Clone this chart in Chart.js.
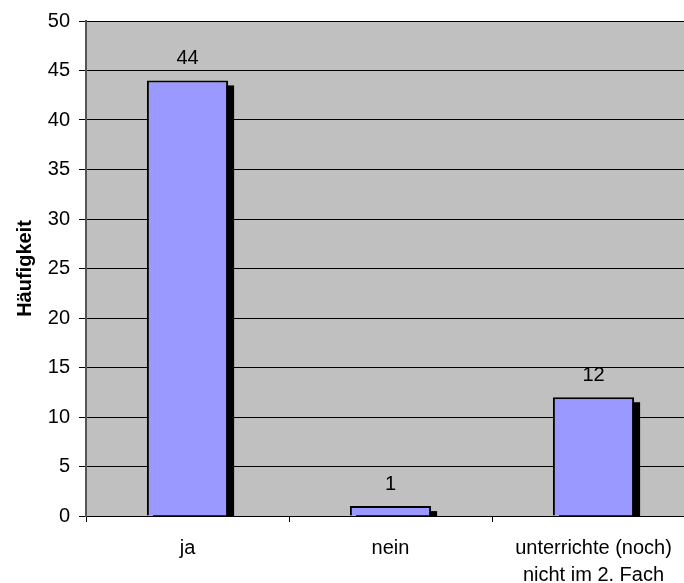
<!DOCTYPE html>
<html>
<head>
<meta charset="utf-8">
<script src="https://cdn.jsdelivr.net/npm/chart.js@4.4.1/dist/chart.umd.min.js"></script>
<style>
  html, body { margin: 0; padding: 0; background: #fff; overflow: hidden; }
  #wrap { width: 700px; height: 583px; }
</style>
</head>
<body>
<div id="wrap"><canvas id="chart"></canvas></div>
<script>
var categories = ['ja', 'nein', ['unterrichte (noch)', 'nicht im 2. Fach']];
var counts = [44, 1, 12];
var yTicks = [0, 5, 10, 15, 20, 25, 30, 35, 40, 45, 50];
var yTitle = 'Häufigkeit';

var FONT = "'Liberation Sans', Arial, sans-serif";

// grey plot area
var plotBg = {
  id: 'plotBg',
  beforeDraw: function (chart) {
    var a = chart.chartArea, ctx = chart.ctx;
    ctx.save();
    ctx.fillStyle = '#c0c0c0';
    ctx.fillRect(a.left, a.top, a.right - a.left, a.bottom - a.top);
    ctx.restore();
  }
};

// black drop shadow behind every bar
var barShadow = {
  id: 'barShadow',
  beforeDatasetsDraw: function (chart) {
    var a = chart.chartArea, ctx = chart.ctx;
    ctx.save();
    ctx.beginPath();
    ctx.rect(a.left, a.top, a.right - a.left, a.bottom - a.top);
    ctx.clip();
    ctx.fillStyle = '#000';
    chart.getDatasetMeta(0).data.forEach(function (bar) {
      var p = bar.getProps(['x', 'y', 'base', 'width'], true);
      ctx.fillRect(p.x - p.width / 2 + 6, p.y + 5, p.width, p.base - p.y);
    });
    ctx.restore();
  }
};

// value above each bar
var valueLabels = {
  id: 'valueLabels',
  afterDatasetsDraw: function (chart) {
    var ctx = chart.ctx;
    var ds = chart.data.datasets[0];
    ctx.save();
    ctx.font = '20px ' + FONT;
    ctx.fillStyle = '#000';
    ctx.textAlign = 'center';
    ctx.textBaseline = 'alphabetic';
    chart.getDatasetMeta(0).data.forEach(function (bar, i) {
      ctx.fillText(String(ds.data[i]), bar.x, bar.y - 16);
    });
    ctx.restore();
  }
};

new Chart(document.getElementById('chart'), {
  type: 'bar',
  data: {
    labels: categories,
    datasets: [{
      data: counts,
      backgroundColor: '#9999ff',
      borderColor: '#000',
      borderWidth: 2,
      borderSkipped: 'bottom',
      categoryPercentage: 1,
      barPercentage: 0.4
    }]
  },
  options: {
    responsive: true,
    maintainAspectRatio: false,
    animation: false,
    layout: { padding: { top: 21, right: 5, bottom: 0, left: 0 } },
    plugins: {
      legend: { display: false },
      tooltip: { enabled: false }
    },
    scales: {
      x: {
        grid: {
          offset: true,
          drawOnChartArea: false,
          drawTicks: true,
          tickLength: 6,
          color: '#000'
        },
        border: { color: '#000', width: 1 },
        ticks: {
          color: '#000',
          padding: 13,
          maxRotation: 0,
          autoSkip: false,
          font: { family: FONT, size: 20, lineHeight: 1.35 }
        },
        afterFit: function (scale) { scale.height = 67; }
      },
      y: {
        min: 0,
        max: 50,
        afterBuildTicks: function (scale) {
          scale.ticks = yTicks.map(function (v) { return { value: v }; });
        },
        grid: {
          color: '#000',
          drawTicks: true,
          tickLength: 7
        },
        border: { color: '#555', width: 2 },
        ticks: {
          color: '#000',
          padding: 9,
          font: { family: FONT, size: 20 }
        },
        title: {
          display: true,
          text: yTitle,
          color: '#000',
          padding: { top: 13, bottom: 0 },
          font: { family: FONT, size: 20, weight: 'bold' }
        },
        afterFit: function (scale) { scale.width = 86; }
      }
    }
  },
  plugins: [plotBg, barShadow, valueLabels]
});
</script>
</body>
</html>
